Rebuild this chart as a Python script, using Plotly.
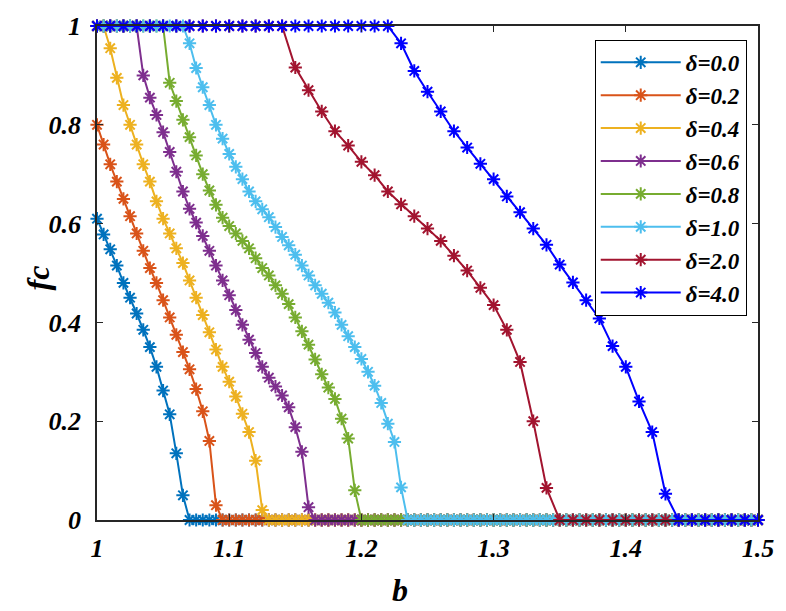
import plotly.graph_objects as go

# x grids (b): fine grid for delta <= 1.0, coarse grid for delta = 2.0 and 4.0
B_FINE = [round(1 + 0.005 * i, 3) for i in range(101)]
B_COARSE = [round(1 + 0.01 * i, 2) for i in range(51)]

D00 = [0.61, 0.578, 0.548, 0.515, 0.48, 0.45, 0.418, 0.385, 0.35, 0.31,
       0.262, 0.214, 0.135, 0.05, 0, 0, 0, 0, 0, 0,
       0, 0, 0, 0, 0, 0, 0, 0, 0, 0,
       0, 0, 0, 0, 0, 0, 0, 0, 0, 0,
       0, 0, 0, 0, 0, 0, 0, 0, 0, 0,
       0, 0, 0, 0, 0, 0, 0, 0, 0, 0,
       0, 0, 0, 0, 0, 0, 0, 0, 0, 0,
       0, 0, 0, 0, 0, 0, 0, 0, 0, 0,
       0, 0, 0, 0, 0, 0, 0, 0, 0, 0,
       0, 0, 0, 0, 0, 0, 0, 0, 0, 0,
       0]
D02 = [0.80, 0.76, 0.72, 0.685, 0.65, 0.615, 0.58, 0.545, 0.51, 0.48,
       0.445, 0.41, 0.375, 0.34, 0.305, 0.265, 0.22, 0.16, 0.03, 0,
       0, 0, 0, 0, 0, 0, 0, 0, 0, 0,
       0, 0, 0, 0, 0, 0, 0, 0, 0, 0,
       0, 0, 0, 0, 0, 0, 0, 0, 0, 0,
       0, 0, 0, 0, 0, 0, 0, 0, 0, 0,
       0, 0, 0, 0, 0, 0, 0, 0, 0, 0,
       0, 0, 0, 0, 0, 0, 0, 0, 0, 0,
       0, 0, 0, 0, 0, 0, 0, 0, 0, 0,
       0, 0, 0, 0, 0, 0, 0, 0, 0, 0,
       0]
D04 = [1, 1, 0.955, 0.895, 0.84, 0.80, 0.76, 0.72, 0.685, 0.645,
       0.61, 0.58, 0.55, 0.52, 0.485, 0.45, 0.415, 0.38, 0.345, 0.31,
       0.28, 0.25, 0.215, 0.178, 0.12, 0.02, 0, 0, 0, 0,
       0, 0, 0, 0, 0, 0, 0, 0, 0, 0,
       0, 0, 0, 0, 0, 0, 0, 0, 0, 0,
       0, 0, 0, 0, 0, 0, 0, 0, 0, 0,
       0, 0, 0, 0, 0, 0, 0, 0, 0, 0,
       0, 0, 0, 0, 0, 0, 0, 0, 0, 0,
       0, 0, 0, 0, 0, 0, 0, 0, 0, 0,
       0, 0, 0, 0, 0, 0, 0, 0, 0, 0,
       0]
D06 = [1, 1, 1, 1, 1, 1, 1, 0.90, 0.855, 0.82,
       0.785, 0.745, 0.705, 0.665, 0.63, 0.602, 0.575, 0.545, 0.515, 0.485,
       0.455, 0.425, 0.395, 0.365, 0.338, 0.31, 0.288, 0.27, 0.252, 0.228,
       0.188, 0.138, 0.026, 0, 0, 0, 0, 0, 0, 0,
       0, 0, 0, 0, 0, 0, 0, 0, 0, 0,
       0, 0, 0, 0, 0, 0, 0, 0, 0, 0,
       0, 0, 0, 0, 0, 0, 0, 0, 0, 0,
       0, 0, 0, 0, 0, 0, 0, 0, 0, 0,
       0, 0, 0, 0, 0, 0, 0, 0, 0, 0,
       0, 0, 0, 0, 0, 0, 0, 0, 0, 0,
       0]
D08 = [1, 1, 1, 1, 1, 1, 1, 1, 1, 1,
       1, 0.885, 0.848, 0.81, 0.775, 0.738, 0.70, 0.667, 0.638, 0.612,
       0.595, 0.58, 0.565, 0.55, 0.53, 0.51, 0.495, 0.475, 0.458, 0.437,
       0.41, 0.382, 0.355, 0.325, 0.295, 0.268, 0.245, 0.205, 0.165, 0.06,
       0, 0, 0, 0, 0, 0, 0, 0, 0, 0,
       0, 0, 0, 0, 0, 0, 0, 0, 0, 0,
       0, 0, 0, 0, 0, 0, 0, 0, 0, 0,
       0, 0, 0, 0, 0, 0, 0, 0, 0, 0,
       0, 0, 0, 0, 0, 0, 0, 0, 0, 0,
       0, 0, 0, 0, 0, 0, 0, 0, 0, 0,
       0]
D10 = [1, 1, 1, 1, 1, 1, 1, 1, 1, 1,
       1, 1, 1, 1, 0.965, 0.915, 0.876, 0.84, 0.80, 0.772,
       0.741, 0.715, 0.69, 0.665, 0.645, 0.629, 0.613, 0.593, 0.573, 0.556,
       0.537, 0.515, 0.495, 0.475, 0.458, 0.44, 0.42, 0.395, 0.372, 0.35,
       0.326, 0.30, 0.272, 0.237, 0.195, 0.158, 0.066, 0, 0, 0,
       0, 0, 0, 0, 0, 0, 0, 0, 0, 0,
       0, 0, 0, 0, 0, 0, 0, 0, 0, 0,
       0, 0, 0, 0, 0, 0, 0, 0, 0, 0,
       0, 0, 0, 0, 0, 0, 0, 0, 0, 0,
       0, 0, 0, 0, 0, 0, 0, 0, 0, 0,
       0]
D20 = [1, 1, 1, 1, 1, 1, 1, 1, 1, 1,
       1, 1, 1, 1, 1, 0.916, 0.87, 0.827, 0.787, 0.758,
       0.725, 0.698, 0.665, 0.639, 0.615, 0.59, 0.565, 0.535, 0.505, 0.47,
       0.435, 0.385, 0.32, 0.20, 0.065, 0, 0, 0, 0, 0,
       0, 0, 0, 0, 0, 0, 0, 0, 0, 0,
       0]
D40 = [1, 1, 1, 1, 1, 1, 1, 1, 1, 1,
       1, 1, 1, 1, 1, 1, 1, 1, 1, 1,
       1, 1, 1, 0.965, 0.909, 0.867, 0.827, 0.787, 0.754, 0.721,
       0.69, 0.655, 0.623, 0.59, 0.557, 0.517, 0.481, 0.445, 0.408, 0.352,
       0.31, 0.24, 0.178, 0.053, 0, 0, 0, 0, 0, 0,
       0]

NAMES = ["δ=0.0", "δ=0.2", "δ=0.4", "δ=0.6", "δ=0.8", "δ=1.0", "δ=2.0", "δ=4.0"]
COLORS = ["#0072BD", "#D95319", "#EDB120", "#7E2F8E", "#77AC30", "#4DBEEE", "#A2142F", "#0000FF"]
SERIES_X = [B_FINE] * 6 + [B_COARSE] * 2
SERIES_Y = [D00, D02, D04, D06, D08, D10, D20, D40]

X_TICKS = [1, 1.1, 1.2, 1.3, 1.4, 1.5]
X_TICKTEXT = ["1", "1.1", "1.2", "1.3", "1.4", "1.5"]
Y_TICKS = [0, 0.2, 0.4, 0.6, 0.8, 1]
Y_TICKTEXT = ["0", "0.2", "0.4", "0.6", "0.8", "1"]

FONT = "Liberation Serif, Times New Roman, serif"

fig = go.Figure()
for name, col, xs, ys in zip(NAMES, COLORS, SERIES_X, SERIES_Y):
    fig.add_trace(go.Scatter(
        x=xs, y=ys, mode="lines+markers", name=name,
        line=dict(color=col, width=2),
        marker=dict(symbol="asterisk-open", size=11, color=col,
                    line=dict(color=col, width=2)),
        cliponaxis=False,
    ))

axis_common = dict(
    showgrid=False, zeroline=False, showline=True, mirror="ticks",
    linecolor="#262626", linewidth=1.5, ticks="inside", ticklen=6,
    tickcolor="#262626", tickwidth=1.2,
    tickfont=dict(family=FONT, size=26, color="black", weight="bold", style="italic"),
)

title_font = dict(family=FONT, size=32, color="black", weight="bold", style="italic")

fig.update_layout(
    width=786, height=611,
    margin=dict(l=97, r=24, t=14, b=91),
    paper_bgcolor="white", plot_bgcolor="white",
    xaxis=dict(range=[1, 1.5], tickvals=X_TICKS, ticktext=X_TICKTEXT,
               ticklabelstandoff=4, **axis_common),
    yaxis=dict(range=[0, 1], tickvals=Y_TICKS, ticktext=Y_TICKTEXT,
               ticklabelstandoff=9, **axis_common),
    annotations=[
        dict(text="b", xref="paper", yref="paper", x=0.4586, y=-0.142,
             xanchor="center", yanchor="middle", showarrow=False, font=title_font),
        dict(text="fc", xref="paper", yref="paper", x=-0.09, y=0.49,
             xanchor="center", yanchor="middle", showarrow=False, font=title_font,
             textangle=-90),
    ],
    legend=dict(x=0.753, y=0.972, xanchor="left", yanchor="top",
                bgcolor="white", bordercolor="black", borderwidth=1,
                itemwidth=80, tracegroupgap=0,
                font=dict(family=FONT, size=23, color="black", weight="bold", style="italic")),
    showlegend=True,
)

fig.write_html("out.html")
